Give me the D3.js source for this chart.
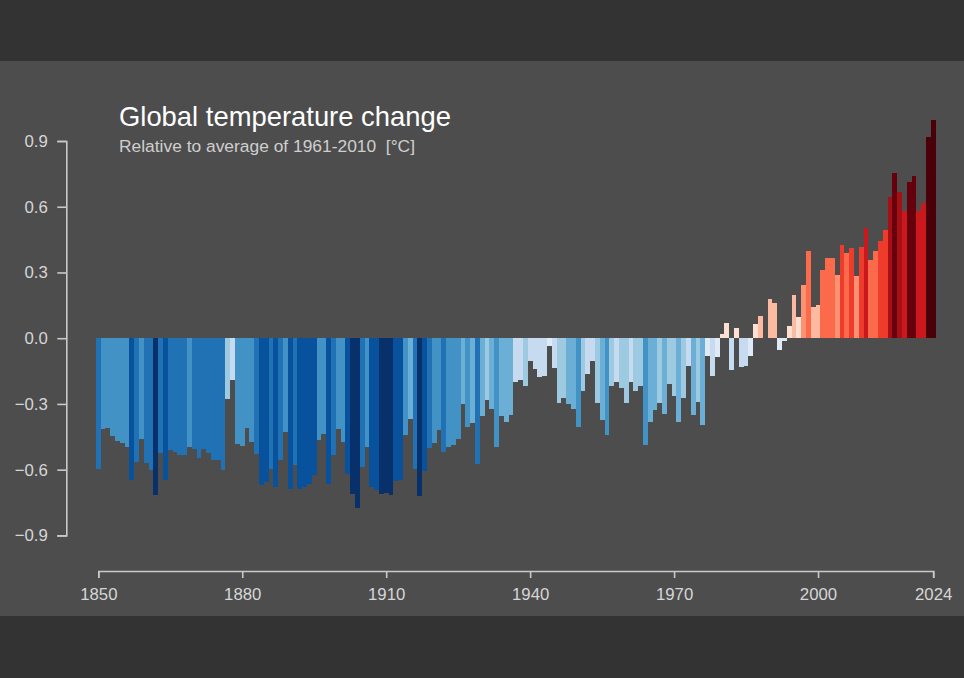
<!DOCTYPE html>
<html>
<head>
<meta charset="utf-8">
<script src="https://cdn.jsdelivr.net/npm/d3@7"></script>
<style>
html,body{margin:0;padding:0;background:#333333;overflow:hidden}
svg{display:block}
text{font-family:"Liberation Sans",Arial,sans-serif}
</style>
</head>
<body>
<div id="chart"></div>
<script>
const firstYear = 1850;
const lastYear = 2024;
const anomalies = [
-0.597,-0.413,-0.409,-0.448,-0.471,-0.479,-0.498,-0.646,-0.567,-0.460,
-0.570,-0.603,-0.714,-0.524,-0.646,-0.512,-0.521,-0.535,-0.532,-0.495,
-0.505,-0.549,-0.506,-0.524,-0.555,-0.558,-0.603,-0.278,-0.190,-0.483,
-0.494,-0.412,-0.474,-0.527,-0.672,-0.658,-0.597,-0.679,-0.558,-0.429,
-0.688,-0.578,-0.688,-0.680,-0.664,-0.625,-0.464,-0.439,-0.664,-0.535,
-0.413,-0.473,-0.619,-0.710,-0.775,-0.588,-0.497,-0.680,-0.691,-0.713,
-0.707,-0.717,-0.653,-0.646,-0.444,-0.369,-0.597,-0.719,-0.606,-0.503,
-0.479,-0.421,-0.518,-0.497,-0.489,-0.460,-0.302,-0.406,-0.386,-0.573,
-0.356,-0.283,-0.324,-0.498,-0.354,-0.384,-0.350,-0.198,-0.190,-0.220,
-0.103,-0.141,-0.179,-0.173,-0.035,-0.137,-0.298,-0.272,-0.302,-0.324,
-0.407,-0.240,-0.164,-0.102,-0.296,-0.375,-0.444,-0.216,-0.198,-0.229,
-0.295,-0.200,-0.243,-0.217,-0.486,-0.383,-0.328,-0.298,-0.348,-0.211,
-0.266,-0.384,-0.274,-0.129,-0.351,-0.289,-0.395,-0.079,-0.172,-0.087,
0.018,0.071,-0.144,0.047,-0.132,-0.129,-0.082,0.064,0.103,0.002,
0.181,0.160,-0.056,-0.012,0.055,0.198,0.096,0.242,0.398,0.144,
0.152,0.309,0.365,0.365,0.287,0.427,0.391,0.410,0.286,0.416,
0.503,0.357,0.397,0.445,0.494,0.643,0.752,0.666,0.582,0.711,
0.742,0.579,0.619,0.919,0.995
];
const years = d3.range(firstYear, lastYear + 1);
const xTickValues = [1850,1880,1910,1940,1970,2000,2024];
const yTickValues = [-0.9,-0.6,-0.3,0,0.3,0.6,0.9];
const titleText = "Global temperature change";
const subtitleText = "Relative to average of 1961-2010  [°C]";
const colorBreaks = [-0.7,-0.605,-0.5,-0.4,-0.3,-0.2,-0.1,0,0.1,0.2,0.3,0.4,0.5,0.63,0.7,0.9];
const colorRamp = ["#08306b","#08519c","#2171b5","#4292c6","#6baed6","#9ecae1","#c6dbef","#deebf7",
                   "#fee0d2","#fcbba1","#fc9272","#fb6a4a","#ef3b2c","#cb181d","#a50f15","#67000d","#4a0008"];

const width = 964, height = 678;
const svg = d3.select("#chart").append("svg").attr("width", width).attr("height", height);
svg.append("rect").attr("width", width).attr("height", height).attr("fill", "#333333");
svg.append("rect").attr("x", 0).attr("y", 61).attr("width", width).attr("height", 555).attr("fill", "#4d4d4d");

const x = d3.scaleLinear().domain([firstYear, lastYear]).range([98.3, 933.2]);
const y = d3.scaleLinear().domain([-0.9, 0.9]).range([535.4, 141]);
const color = d3.scaleThreshold().domain(colorBreaks).range(colorRamp);

svg.append("g").selectAll("rect").data(years).join("rect")
  .attr("x", d => x(d - 0.5))
  .attr("width", d => x(d + 0.5) - x(d - 0.5))
  .attr("y", (d, i) => Math.min(y(anomalies[i]), y(0)))
  .attr("height", (d, i) => Math.abs(y(anomalies[i]) - y(0)))
  .attr("fill", (d, i) => color(anomalies[i]))
  .attr("shape-rendering", "crispEdges");

const axisColor = "#c9c9c9", labelColor = "#d6d6d6";
function styleAxis(g) {
  g.selectAll("path").attr("stroke", axisColor).attr("stroke-width", 1.6).attr("fill", "none");
  g.selectAll("line").attr("stroke", axisColor).attr("stroke-width", 1.6);
  g.selectAll("text").attr("fill", labelColor).attr("font-size", 16.8)
    .attr("font-family", '"Liberation Sans",Arial,sans-serif');
}
const yAxis = d3.axisLeft(y).tickValues(yTickValues).tickSize(9).tickPadding(9.5)
  .tickFormat(d3.format(".1f"));
svg.append("g").attr("transform", "translate(66.3,0)").call(yAxis).call(styleAxis);

const xAxis = d3.axisBottom(x).tickValues(xTickValues).tickSize(7).tickPadding(10)
  .tickFormat(d3.format("d"));
svg.append("g").attr("transform", "translate(0,571)").call(xAxis).call(styleAxis);

svg.append("text").attr("x", 119).attr("y", 126).attr("fill", "#ffffff")
  .attr("font-size", 27.4).text(titleText);
svg.append("text").attr("x", 119).attr("y", 151.5).attr("fill", "#cfcfcf")
  .attr("font-size", 17.4).style("white-space", "pre").text(subtitleText);
</script>
</body>
</html>
